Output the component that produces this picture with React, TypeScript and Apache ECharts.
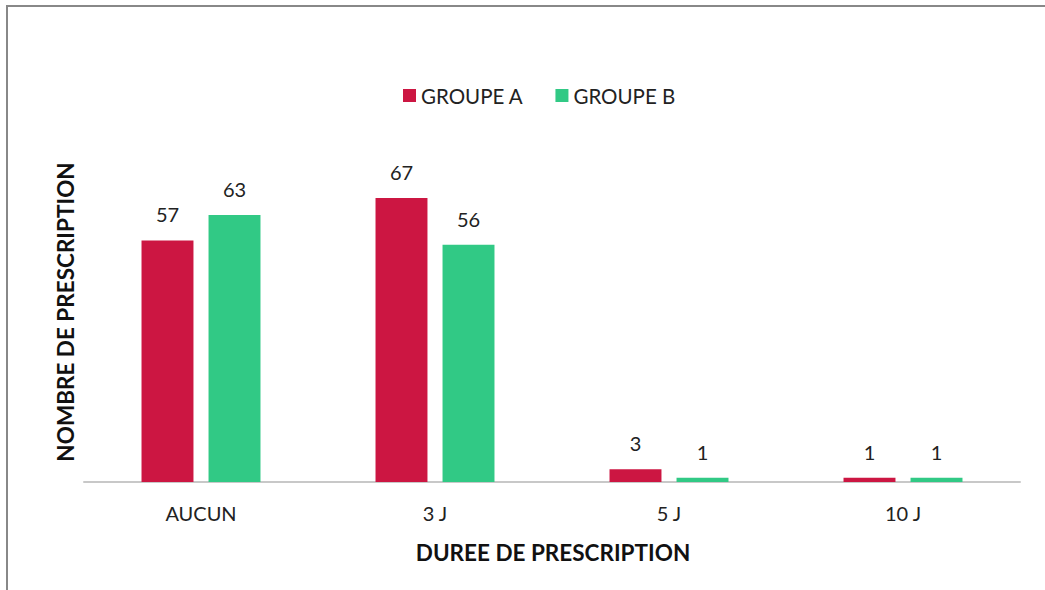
import React, { useEffect, useRef } from "react";
import * as echarts from "echarts";

const categories = ["AUCUN", "3 J", "5 J", "10 J"];
const groupA = [57, 67, 3, 1];
const groupB = [63, 56, 1, 1];
const seriesNames = ["GROUPE A", "GROUPE B"];
const xTitle = "DUREE DE PRESCRIPTION";
const yTitle = "NOMBRE DE PRESCRIPTION";

const FONT = "Lato, 'Open Sans', sans-serif";
const RED = "#CC1642";
const GREEN = "#31C985";

export default function App() {
  const ref = useRef<HTMLDivElement>(null);
  useEffect(() => {
    if (!ref.current) return;
    const chart = echarts.init(ref.current, undefined, { renderer: "svg" });
    chart.setOption({
      animation: false,
      backgroundColor: "#ffffff",
      textStyle: { fontFamily: FONT },
      legend: {
        data: seriesNames,
        top: 80,
        left: 398,
        itemWidth: 13,
        itemHeight: 13,
        itemGap: 32,
        icon: "rect",
        textStyle: { fontSize: 20.5, color: "#222", fontFamily: FONT },
      },
      grid: { left: 84, right: 25, top: 143, bottom: 108, containLabel: false },
      xAxis: {
        type: "category",
        data: categories,
        axisLine: { show: true, lineStyle: { color: "#c8c8c8", width: 2 } },
        axisTick: { show: false },
        axisLabel: { fontSize: 20, color: "#222", margin: 21, fontFamily: FONT },
      },
      yAxis: {
        type: "value",
        min: 0,
        max: 80,
        show: false,
        splitLine: { show: false },
      },
      series: [
        {
          name: seriesNames[0],
          type: "bar",
          data: groupA,
          barWidth: "22.2%",
          barGap: "29%",
          itemStyle: { color: RED },
          label: { show: true, position: "top", distance: 16, fontSize: 20, color: "#222", fontFamily: FONT },
        },
        {
          name: seriesNames[1],
          type: "bar",
          data: groupB,
          barWidth: "22.2%",
          barGap: "29%",
          itemStyle: { color: GREEN },
          label: { show: true, position: "top", distance: 16, fontSize: 20, color: "#222", fontFamily: FONT },
        },
      ],
      graphic: [
        {
          type: "rect",
          shape: { x: 7, y: 6, width: 1100, height: 700 },
          style: { fill: "none", stroke: "#888", lineWidth: 2 },
          silent: true,
        },
        {
          type: "text",
          x: 553,
          y: 552,
          style: {
            text: xTitle,
            fontSize: 22.5,
            fontWeight: "bold",
            fill: "#111",
            fontFamily: FONT,
            align: "center",
            verticalAlign: "middle",
          },
        },
        {
          type: "text",
          x: 65,
          y: 312,
          rotation: Math.PI / 2,
          style: {
            text: yTitle,
            fontSize: 22.5,
            fontWeight: "bold",
            fill: "#111",
            fontFamily: FONT,
            align: "center",
            verticalAlign: "middle",
          },
        },
      ],
    });
    return () => chart.dispose();
  }, []);
  return (
    <div
      ref={ref}
      style={{ position: "fixed", left: 0, top: 0, width: 1045, height: 590 }}
    />
  );
}
